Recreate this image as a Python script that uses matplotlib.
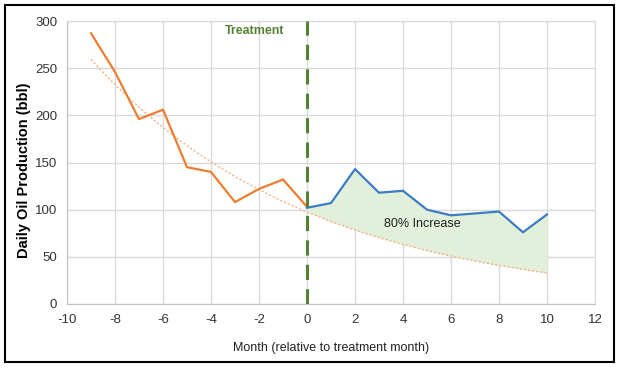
import numpy as np
import matplotlib
matplotlib.use("Agg")
import matplotlib.pyplot as plt
from matplotlib.patches import Rectangle

plt.rcParams['font.family'] = ['Liberation Sans', 'DejaVu Sans']
plt.rcParams['axes.unicode_minus'] = False

pre_months = [-9, -8, -7, -6, -5, -4, -3, -2, -1, 0]
pre_oil = [287, 246, 196, 206, 145, 140, 108, 122, 132, 103]
post_months = [0, 1, 2, 3, 4, 5, 6, 7, 8, 9, 10]
post_oil = [102, 107, 143, 118, 120, 100, 94, 96, 98, 76, 95]

# Exponential trendline fitted to pre-treatment data (as in the spreadsheet chart)
coef = np.polyfit(pre_months, np.log(pre_oil), 1)
trend_x = np.linspace(-9, 10, 200)
trend_y = np.exp(np.polyval(coef, trend_x))

fig = plt.figure(figsize=(6.2, 3.68), dpi=100)
ax = fig.add_axes([67/620, 1-304/368, (595-67)/620, (304-21)/368])

grid_c = '#d9d9d9'
ax.set_xlim(-10, 12)
ax.set_ylim(0, 300)
ax.set_xticks(np.arange(-10, 13, 2))
ax.set_yticks(np.arange(0, 301, 50))
ax.grid(True, color=grid_c, linewidth=1)
ax.set_axisbelow(True)
for s in ax.spines.values():
    s.set_color(grid_c)
ax.spines['left'].set_color('#bfbfbf')
ax.spines['bottom'].set_color('#bfbfbf')
ax.tick_params(length=0, labelsize=9.5, pad=7, labelcolor='#333333')

# fill between blue line and trendline
pm = np.array(post_months)
fill_trend = np.exp(np.polyval(coef, pm))
ax.fill_between(pm, fill_trend, post_oil, color='#e2efda', zorder=1, linewidth=0)

ax.plot(trend_x, trend_y, color='#f4b183', linestyle=(0, (1.5, 1.5)), linewidth=1, zorder=2)
ax.plot(pre_months, pre_oil, color='#ed7d31', linewidth=1.6, zorder=3)
ax.plot(post_months, post_oil, color='#3a7dc4', linewidth=1.6, zorder=3)
ax.axvline(0, color='#548235', linestyle=(0, (5, 3)), linewidth=2.2, zorder=4)

ax.text(-2.2, 289, 'Treatment', color='#548235', fontsize=9, fontweight='bold',
        ha='center', va='center')
ax.text(4.8, 85, '80% Increase', color='#222222', fontsize=9, ha='center', va='center')

ax.set_xlabel('Month (relative to treatment month)', fontsize=9, labelpad=12, color='#222222')
ax.set_ylabel('Daily Oil Production (bbl)', fontsize=10.5, fontweight='bold')
ax.yaxis.set_label_coords(-0.068, 0.473)

fig.patches.append(Rectangle((5/620, 1-362/368), 609/620, 357/368, transform=fig.transFigure,
                             fill=False, edgecolor='black', linewidth=1.5))

fig.savefig('out.png', dpi=100)
